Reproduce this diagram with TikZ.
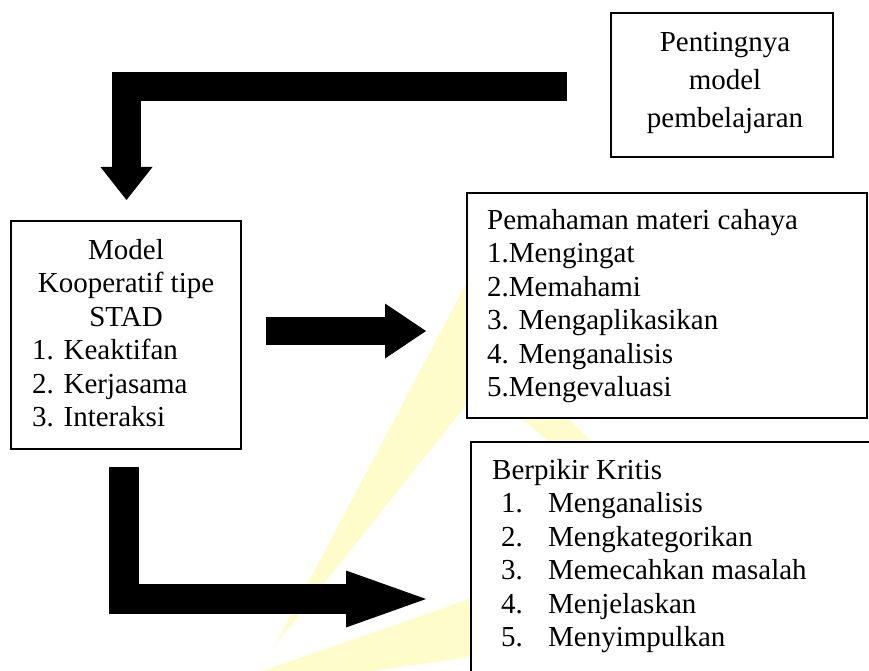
\documentclass[tikz,border=0pt]{standalone}
\usepackage{fontspec}
\setmainfont{Liberation Serif}
\usetikzlibrary{arrows.meta}
\definecolor{wm}{RGB}{255,252,204}
\begin{document}
\begin{tikzpicture}[x=1pt,y=-1pt,
  box/.style={draw=black,line width=1.3pt,fill=white,inner sep=0pt},
  txt/.style={inner sep=0pt,font=\fontsize{29}{33.5}\selectfont},
  txtwide/.style={inner sep=0pt,font=\fontsize{29}{38}\selectfont},
  blockarrow/.style={draw=black,line join=miter,line cap=butt}]
\useasboundingbox (0,0) rectangle (869,671);
\clip (0,0) rectangle (869,671);
% watermark rays
\fill[wm] (275,645) -- (468,280) -- (468,403) -- cycle;
\fill[wm] (262,671) -- (472,598) -- (472,657) -- (373,671) -- cycle;
\fill[wm] (499,400) -- (550,400) -- (610,460) -- (571,460) -- cycle;
% boxes
\node[box,minimum width=222pt,minimum height=144pt] (pent) at (722,85) {};
\node[box,minimum width=230pt,minimum height=228pt] (model) at (126,335) {};
\node[box,minimum width=400pt,minimum height=225pt] (paham) at (667,305.5) {};
\node[box,minimum width=419pt,minimum height=258pt] (kritis) at (680.5,571) {};
% texts
\node[txtwide,anchor=base] (pentT) at (725,52)
  {\begin{tabular}[t]{@{}c@{}}Pentingnya\\model\\pembelajaran\end{tabular}};
\node[txt,anchor=base] (modelT) at (126,259)
  {\begin{tabular}[t]{@{}c@{}}Model\\Kooperatif tipe\\STAD\end{tabular}};
\node[txt,anchor=base west] (modelL) at (32,359.5)
  {\begin{tabular}[t]{@{}l@{}}1. Keaktifan\\2. Kerjasama\\3. Interaksi\end{tabular}};
\node[txt,anchor=base west] (pahamT) at (487,229)
  {\begin{tabular}[t]{@{}l@{}}Pemahaman materi cahaya\\1.Mengingat\\2.Memahami\\3. Mengaplikasikan\\4. Menganalisis\\5.Mengevaluasi\end{tabular}};
\node[txt,anchor=base west] (kritisT) at (492,479)
  {\begin{tabular}[t]{@{}l@{}}Berpikir Kritis\\
  \hspace{9pt}\makebox[47pt][l]{1.}Menganalisis\\
  \hspace{9pt}\makebox[47pt][l]{2.}Mengkategorikan\\
  \hspace{9pt}\makebox[47pt][l]{3.}Memecahkan masalah\\
  \hspace{9pt}\makebox[47pt][l]{4.}Menjelaskan\\
  \hspace{9pt}\makebox[47pt][l]{5.}Menyimpulkan\end{tabular}};
% block arrows
\coordinate (a1s) at (567,87);
\coordinate (a1e) at (126.5,200);
\draw[blockarrow,line width=29pt,-{Triangle[width=52pt,length=33pt,line width=0pt]}] (a1s) -| (a1e);
\coordinate (a2s) at (266,331);
\coordinate (a2e) at (426,331);
\draw[blockarrow,line width=28pt,-{Triangle[width=55pt,length=41pt,line width=0pt]}] (a2s) -- (a2e);
\coordinate (a3s) at (123.5,467);
\coordinate (a3e) at (426,599);
\draw[blockarrow,line width=30pt,-{Triangle[width=57pt,length=80pt,line width=0pt]}] (a3s) |- (a3e);
\end{tikzpicture}
\end{document}
